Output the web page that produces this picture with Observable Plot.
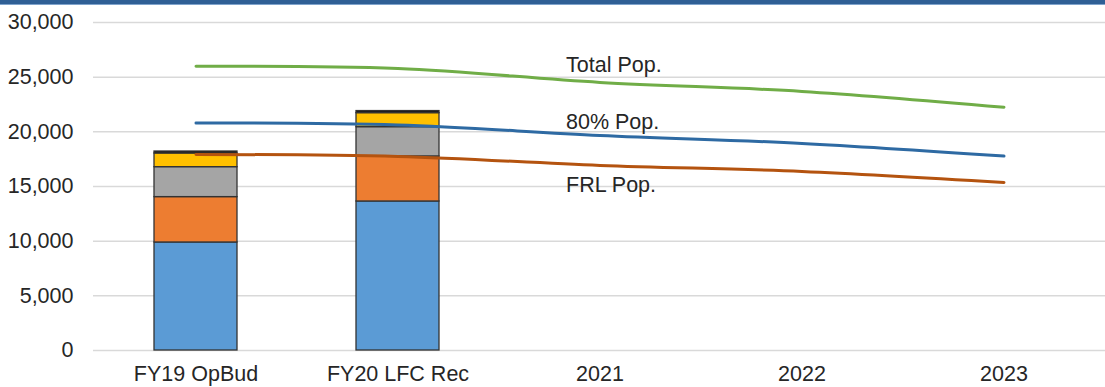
<!DOCTYPE html>
<html><head><meta charset="utf-8">
<script src="https://cdn.jsdelivr.net/npm/d3@7"></script>
<script src="https://cdn.jsdelivr.net/npm/@observablehq/plot@0.6"></script>
<style>
body{margin:0;background:#fff;font-family:"Liberation Sans",Arial,sans-serif;}
#wrap{position:relative;width:1105px;height:387px;overflow:hidden;}
#band{position:absolute;left:0;top:0;width:1105px;height:4px;background:#2f5f95;border-bottom:1px solid #7fa3cc;}
</style></head>
<body><div id="wrap"><div id="band"></div></div>
<script>
const categories = ["FY19 OpBud","FY20 LFC Rec","2021","2022","2023"];
const barCategories = ["FY19 OpBud","FY20 LFC Rec"];
const stackSeries = ["S1","S2","S3","S4","S5"];
const stackValues = {
  S1: [9880, 13630],
  S2: [4150, 4120],
  S3: [2740, 2680],
  S4: [1250, 1280],
  S5: [180, 190]
};
const stackColors = ["#5b9bd5","#ed7d31","#a5a5a5","#ffc000","#1a1a1a"];
const lineNames = ["Total Pop.","80% Pop.","FRL Pop."];
const totalPop = [26000, 25800, 24520, 23700, 22250];
const pop80 = [20810, 20630, 19670, 18940, 17780];
const frlPop = [17930, 17750, 16930, 16380, 15370];
const lineColors = ["#70ad47","#2e6aa3","#b4530f"];
const labelCategory = "2021";
const labelValues = [26075, 20860, 15100];
const yTicks = [0,5000,10000,15000,20000,25000,30000];

const barData = [];
stackSeries.forEach((s) => barCategories.forEach((c, j) => barData.push({cat: c, series: s, value: stackValues[s][j]})));
const lineSeries = [totalPop, pop80, frlPop];
const labelData = lineNames.map((n, i) => ({cat: labelCategory, name: n, value: labelValues[i]}));

const lineMarks = lineSeries.map((vals, i) =>
  Plot.line(categories.map((c, j) => ({cat: c, value: vals[j]})),
    {x: "cat", y: "value", stroke: lineColors[i], strokeWidth: 3, curve: "catmull-rom"}));

const chart = Plot.plot({
  width: 1105, height: 387,
  marginLeft: 93, marginRight: 0, marginTop: 22, marginBottom: 37,
  style: {fontFamily: '"Liberation Sans", Arial, sans-serif', fontSize: "21.5px", color: "#262626", background: "transparent"},
  x: {domain: categories, paddingInner: 0.59, paddingOuter: 0.29, label: null, tickSize: 0, tickPadding: 15},
  y: {domain: [0, 30000], ticks: yTicks, label: null, tickSize: 0, tickPadding: 20, tickFormat: d3.format(",")},
  color: {domain: stackSeries, range: stackColors},
  marks: [
    Plot.ruleY(yTicks, {stroke: "#d9d9d9", strokeWidth: 1.5}),
    Plot.barY(barData, {x: "cat", y: "value", fill: "series", order: stackSeries, stroke: "#333", strokeWidth: 1.3}),
    ...lineMarks,
    Plot.text(labelData, {x: "cat", y: "value", text: "name", textAnchor: "start", dx: -34, fill: "#262626", fontSize: 21.5})
  ]
});
document.getElementById("wrap").appendChild(chart);
</script></body></html>
